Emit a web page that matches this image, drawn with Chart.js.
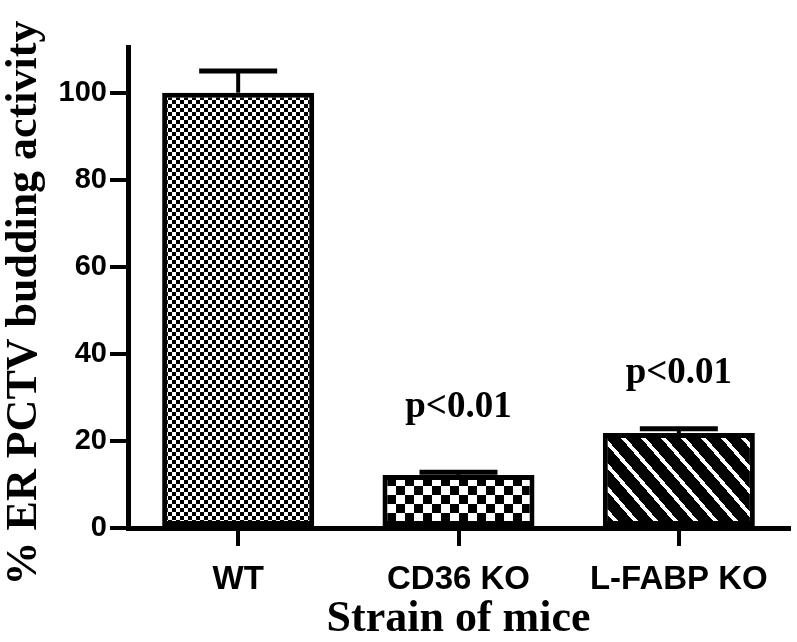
<!DOCTYPE html>
<html>
<head>
<meta charset="utf-8">
<script src="https://cdn.jsdelivr.net/npm/chart.js@4"></script>
<style>
    html, body { margin: 0; padding: 0; background: #fff; }
    #wrap { width: 797px; height: 642px; position: relative; }
</style>
</head>
<body>
<div id="wrap"><canvas id="budding"></canvas></div>
<script>
const strains = ["WT", "CD36 KO", "L-FABP KO"];
const activity = [100, 12.2, 21.8];
const activityErr = [5, 0.6, 1.0];
const pLabels = [null, "p<0.01", "p<0.01"];
const pLabelAt = [null, 25.5, 33.3];
const yTicks = [0, 20, 40, 60, 80, 100];

// little tiles for the bar fills
function tilePattern(w, h, isBlack) {
    const c = document.createElement("canvas");
    c.width = w;
    c.height = h;
    const g = c.getContext("2d");
    g.fillStyle = "#fff";
    g.fillRect(0, 0, w, h);
    g.fillStyle = "#000";
    for (let y = 0; y < h; y++) {
        for (let x = 0; x < w; x++) {
            if (isBlack(x, y)) g.fillRect(x, y, 1, 1);
        }
    }
    return g.createPattern(c, "repeat");
}

const fineChecker = tilePattern(8, 8, (x, y) => (Math.floor(x / 4) + Math.floor(y / 4)) % 2 === 0);
const coarseChecker = tilePattern(18, 18, (x, y) => (Math.floor(x / 9) + Math.floor(y / 9)) % 2 === 0);
const stripes = tilePattern(20, 23, (x, y) => (((x - y * 20 / 23) % 20) + 20) % 20 >= 5);

const errorBars = {
    id: "errorBars",
    afterDatasetsDraw(chart) {
        const ctx = chart.ctx;
        const yScale = chart.scales.y;
        const meta = chart.getDatasetMeta(0);
        ctx.save();
        ctx.strokeStyle = "#000";
        meta.data.forEach((bar, i) => {
            const top = yScale.getPixelForValue(activity[i]);
            const end = yScale.getPixelForValue(activity[i] + activityErr[i]);
            ctx.lineWidth = 4;
            ctx.beginPath();
            ctx.moveTo(bar.x, top);
            ctx.lineTo(bar.x, end);
            ctx.stroke();
            ctx.lineWidth = 5;
            ctx.beginPath();
            ctx.moveTo(bar.x - 39, end);
            ctx.lineTo(bar.x + 39, end);
            ctx.stroke();
        });

        // significance labels
        ctx.fillStyle = "#000";
        ctx.font = "bold 37px 'Liberation Serif', 'Times New Roman', serif";
        ctx.textAlign = "center";
        ctx.textBaseline = "alphabetic";
        pLabels.forEach((txt, i) => {
            if (!txt) return;
            ctx.fillText(txt, meta.data[i].x, yScale.getPixelForValue(pLabelAt[i]));
        });

        // y axis title
        ctx.font = "bold 44px 'Liberation Serif', 'Times New Roman', serif";
        ctx.textBaseline = "middle";
        ctx.translate(25, 303);
        ctx.rotate(-Math.PI / 2);
        ctx.fillText("% ER PCTV budding activity", 0, 0);
        ctx.restore();
    },
};

new Chart(document.getElementById("budding"), {
    type: "bar",
    data: {
        labels: strains,
        datasets: [
            {
                data: activity,
                backgroundColor: [fineChecker, coarseChecker, stripes],
                borderColor: "#000",
                borderWidth: 5,
                borderSkipped: false,
                barPercentage: 0.69,
                categoryPercentage: 1,
            },
        ],
    },
    options: {
        responsive: true,
        maintainAspectRatio: false,
        animation: false,
        layout: {
            padding: { top: 47, right: 8, left: 0, bottom: 0 },
        },
        plugins: {
            legend: { display: false },
            tooltip: { enabled: false },
        },
        scales: {
            x: {
                afterFit: (s) => { s.height = 114; },
                grid: {
                    offset: false,
                    drawOnChartArea: false,
                    drawTicks: true,
                    tickLength: 18,
                    lineWidth: 4,
                    color: "#000",
                },
                border: { display: true, width: 5, color: "#000" },
                ticks: {
                    color: "#000",
                    padding: 14,
                    font: { family: "'Liberation Sans', Arial, sans-serif", size: 33, weight: "bold" },
                },
                title: {
                    display: true,
                    text: "Strain of mice",
                    color: "#000",
                    padding: { top: 0, bottom: -4 },
                    font: { family: "'Liberation Serif', 'Times New Roman', serif", size: 44, weight: "bold" },
                },
            },
            y: {
                min: 0,
                max: 110.5,
                afterFit: (s) => { s.width = 128; },
                afterBuildTicks: (s) => { s.ticks = yTicks.map((v) => ({ value: v })); },
                grid: {
                    drawOnChartArea: false,
                    drawTicks: true,
                    tickLength: 18,
                    lineWidth: 4,
                    color: "#000",
                },
                border: { display: true, width: 5, color: "#000" },
                ticks: {
                    color: "#000",
                    padding: 3,
                    font: { family: "'Liberation Sans', Arial, sans-serif", size: 29, weight: "bold" },
                },
            },
        },
    },
    plugins: [errorBars],
});
</script>
</body>
</html>
